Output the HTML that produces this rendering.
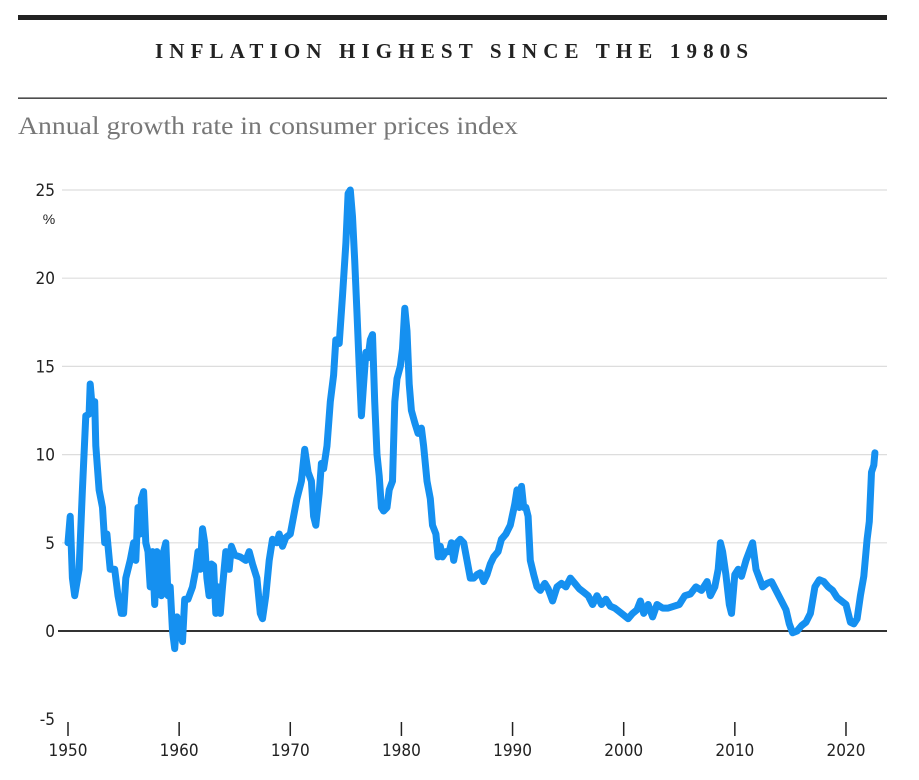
<!DOCTYPE html>
<html><head><meta charset="utf-8"><style>
body{margin:0;background:#fff;width:919px;height:775px;overflow:hidden;font-family:"Liberation Sans",sans-serif}
</style></head><body>
<svg width="919" height="775">
<rect x="18" y="15" width="869" height="5" fill="#222"/>
<text x="155" y="58" textLength="593" lengthAdjust="spacing" font-family="Liberation Serif" font-weight="bold" font-size="21" fill="#222">INFLATION HIGHEST SINCE THE 1980S</text>
<rect x="18" y="97.5" width="869" height="1.3" fill="#222"/>
<text x="18" y="134" textLength="500" lengthAdjust="spacingAndGlyphs" font-family="Liberation Serif" font-size="25" fill="#777">Annual growth rate in consumer prices index</text>
<g id="grid"></g><g id="xaxis"></g>
<path id="line" fill="none" stroke="#1590f0" stroke-width="7" stroke-linejoin="round" stroke-linecap="round"/>
</svg>
<script>
const yTicks=[-5,0,5,10,15,20,25];
const xTicks=[1950,1960,1970,1980,1990,2000,2010,2020];
const years=[1950,1950.2,1950.4,1950.6,1951,1951.3,1951.6,1951.9,1952,1952.2,1952.4,1952.5,1952.8,1953.1,1953.3,1953.5,1953.8,1954.2,1954.5,1954.8,1955,1955.2,1955.6,1955.9,1956.1,1956.3,1956.5,1956.6,1956.8,1957,1957.2,1957.4,1957.6,1957.8,1958,1958.2,1958.4,1958.6,1958.8,1959,1959.2,1959.4,1959.6,1959.8,1960.1,1960.3,1960.5,1960.8,1961.2,1961.5,1961.7,1961.9,1962.1,1962.3,1962.5,1962.7,1962.9,1963.1,1963.3,1963.5,1963.7,1963.9,1964.2,1964.5,1964.7,1965,1965.5,1966,1966.3,1966.6,1967,1967.3,1967.5,1967.8,1968.1,1968.4,1968.8,1969,1969.3,1969.6,1970,1970.3,1970.6,1971,1971.3,1971.6,1971.9,1972.1,1972.3,1972.6,1972.8,1973,1973.3,1973.6,1973.9,1974.1,1974.4,1974.7,1975,1975.2,1975.4,1975.6,1975.8,1976,1976.2,1976.4,1976.6,1976.8,1977,1977.2,1977.4,1977.6,1977.8,1978,1978.2,1978.4,1978.7,1978.9,1979.2,1979.4,1979.6,1979.9,1980.1,1980.3,1980.5,1980.7,1980.9,1981.2,1981.5,1981.8,1982,1982.3,1982.6,1982.8,1983.1,1983.3,1983.5,1983.7,1984,1984.3,1984.5,1984.7,1985,1985.3,1985.6,1985.9,1986.2,1986.5,1986.8,1987.1,1987.4,1987.7,1988,1988.3,1988.7,1989,1989.4,1989.8,1990.2,1990.4,1990.6,1990.8,1991,1991.2,1991.4,1991.6,1991.9,1992.2,1992.5,1992.9,1993.2,1993.6,1994,1994.4,1994.8,1995.2,1995.6,1996,1996.4,1996.8,1997.2,1997.6,1998,1998.4,1998.8,1999.2,1999.6,2000,2000.4,2000.8,2001.2,2001.5,2001.8,2002.2,2002.6,2003,2003.5,2004,2004.5,2005,2005.5,2006,2006.5,2007,2007.5,2007.8,2008.2,2008.5,2008.7,2008.9,2009.2,2009.5,2009.7,2010,2010.3,2010.6,2011,2011.3,2011.6,2011.9,2012.2,2012.5,2012.9,2013.3,2013.7,2014.2,2014.6,2014.9,2015.2,2015.6,2016,2016.4,2016.8,2017.2,2017.6,2018,2018.4,2018.8,2019.2,2019.6,2020,2020.4,2020.7,2021,2021.3,2021.6,2021.9,2022.1,2022.3,2022.5,2022.6];
const values=[5,6.5,3,2,3.5,8,12.2,12.3,14,12.5,13,10.5,8,7,5,5.5,3.5,3.5,2,1,1,3,4,5,4,7,5.5,7.5,7.9,5,4.5,2.5,4.5,1.5,4.5,3.5,2,4.5,5,2,2.5,0,-1,0.8,0,-0.6,1.8,1.8,2.5,3.5,4.5,3.5,5.8,5,3,2,3.8,3.7,1,2.5,1,2.5,4.5,3.5,4.8,4.3,4.2,4,4.5,3.8,3,1,0.7,2,4,5.2,5,5.5,4.8,5.3,5.5,6.5,7.5,8.5,10.3,9,8.5,6.5,6,7.8,9.5,9.2,10.5,13,14.5,16.5,16.3,19,22,24.8,25,23.5,21,18,15,12.2,14,15.8,15.5,16.5,16.8,13,10,8.8,7,6.8,7,8,8.5,13,14.3,15,16,18.3,17,14,12.5,11.8,11.2,11.5,10.5,8.5,7.5,6,5.5,4.2,4.8,4.2,4.5,4.5,5,4,5,5.2,5,4,3,3,3.2,3.3,2.8,3.2,3.8,4.2,4.5,5.2,5.5,6,7.2,8,7,8.2,7,7,6.5,4,3.2,2.5,2.3,2.7,2.4,1.7,2.5,2.7,2.5,3,2.7,2.4,2.2,2,1.5,2,1.5,1.8,1.4,1.3,1.1,0.9,0.7,1,1.2,1.7,1,1.5,0.8,1.5,1.3,1.3,1.4,1.5,2,2.1,2.5,2.3,2.8,2,2.5,3.5,5,4.5,3.2,1.5,1,3.2,3.5,3.1,4,4.5,5,3.5,3,2.5,2.7,2.8,2.3,1.7,1.2,0.4,-0.1,0,0.3,0.5,1,2.5,2.9,2.8,2.5,2.3,1.9,1.7,1.5,0.5,0.4,0.7,2,3.1,5.2,6.2,9,9.4,10.1];
const X=y=>68+(y-1950)*11.114;
const Y=v=>631-v*17.64;
const NS="http://www.w3.org/2000/svg";
const g=document.getElementById('grid');
yTicks.forEach(t=>{
  if(t!==-5){
    const l=document.createElementNS(NS,'line');
    
    
    l.setAttribute('x1',t===0?58:62);l.setAttribute('x2',887);
    l.setAttribute('y1',Y(t));l.setAttribute('y2',Y(t));
    l.setAttribute('stroke',t===0?'#333':'#ddd');l.setAttribute('stroke-width',t===0?2:1.2);
    g.appendChild(l);
  }
  const tx=document.createElementNS(NS,'text');
  
  
  tx.setAttribute('x',55);tx.setAttribute('y',Y(t)+6);
  tx.setAttribute('text-anchor','end');tx.setAttribute('font-size','17');tx.setAttribute('fill','#222');
  tx.setAttribute('font-family','DejaVu Sans Condensed, Liberation Sans Narrow, sans-serif');
  tx.textContent=t;g.appendChild(tx);
});
const pc=document.createElementNS(NS,'text');


pc.setAttribute('x',49);pc.setAttribute('y',224);pc.setAttribute('text-anchor','middle');
pc.setAttribute('font-size','14');pc.setAttribute('fill','#222');pc.textContent='%';g.appendChild(pc);
const xa=document.getElementById('xaxis');
xTicks.forEach(t=>{
  const l=document.createElementNS(NS,'line');
  
  
  l.setAttribute('x1',X(t));l.setAttribute('x2',X(t));l.setAttribute('y1',722);l.setAttribute('y2',736);
  l.setAttribute('stroke','#222');l.setAttribute('stroke-width',1.5);xa.appendChild(l);
  const tx=document.createElementNS(NS,'text');
  
  
  tx.setAttribute('x',X(t));tx.setAttribute('y',756);tx.setAttribute('text-anchor','middle');
  tx.setAttribute('font-size','17');tx.setAttribute('fill','#222');
  tx.setAttribute('font-family','DejaVu Sans Condensed, Liberation Sans Narrow, sans-serif');
  tx.textContent=t;xa.appendChild(tx);
});
document.getElementById('line').setAttribute('d',years.map((y,i)=>(i?'L':'M')+X(y).toFixed(1)+','+Y(values[i]).toFixed(1)).join(''));
</script>
</body></html>
